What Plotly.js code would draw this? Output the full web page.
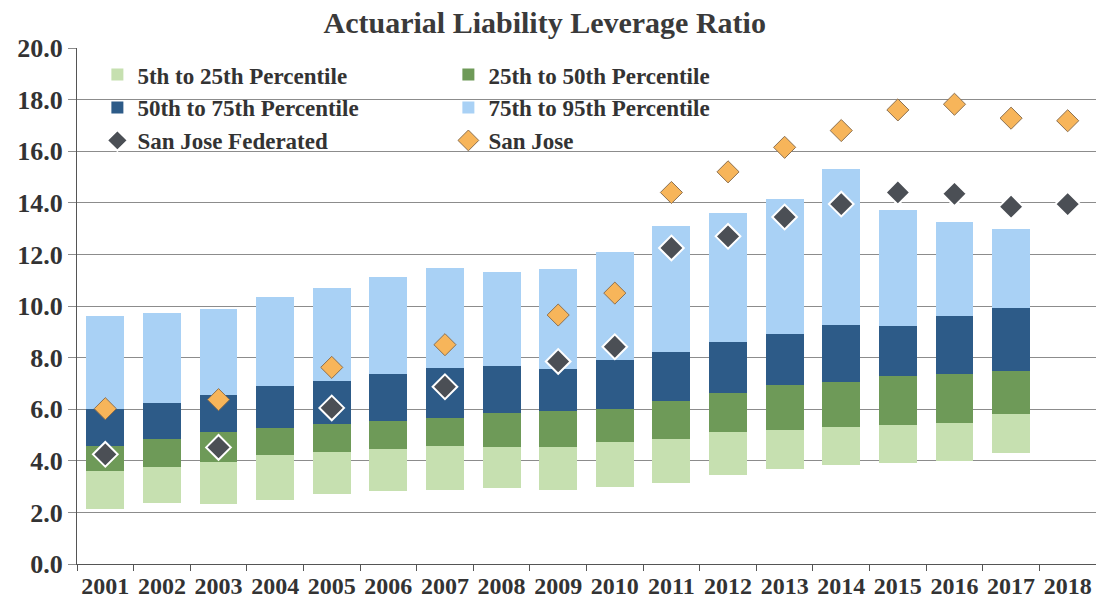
<!DOCTYPE html>
<html>
<head>
<meta charset="utf-8">
<script src="https://cdn.plot.ly/plotly-3.0.1.min.js"></script>
<style>
  body { margin: 0; background: #fff; }
  #chart { width: 1096px; height: 605px; }
</style>
</head>
<body>
<div id="chart"></div>
<script>
const years = ["2001", "2002", "2003", "2004", "2005", "2006", "2007", "2008", "2009",
  "2010", "2011", "2012", "2013", "2014", "2015", "2016", "2017", "2018"];

// percentile levels
const p5 = [2.15, 2.35, 2.32, 2.48, 2.70, 2.82, 2.87, 2.94, 2.85, 2.97, 3.15, 3.45, 3.70, 3.85, 3.90, 4.00, 4.30, null];
const p25 = [3.61, 3.76, 3.95, 4.21, 4.33, 4.46, 4.58, 4.52, 4.55, 4.72, 4.85, 5.10, 5.20, 5.32, 5.40, 5.48, 5.80, null];
const p50 = [4.58, 4.84, 5.11, 5.29, 5.44, 5.56, 5.66, 5.84, 5.92, 6.02, 6.32, 6.62, 6.92, 7.05, 7.28, 7.38, 7.50, null];
const p75 = [6.02, 6.25, 6.56, 6.90, 7.10, 7.35, 7.60, 7.68, 7.55, 7.92, 8.22, 8.62, 8.92, 9.28, 9.22, 9.62, 9.92, null];
const p95 = [9.60, 9.71, 9.88, 10.34, 10.69, 11.13, 11.49, 11.30, 11.42, 12.08, 13.10, 13.60, 14.15, 15.30, 13.72, 13.25, 13.00, null];

const sanJoseFed = [4.25, null, 4.52, null, 6.05, null, 6.87, null, 7.85, 8.42, 12.25, 12.70, 13.45, 13.95, 14.40, 14.35, 13.85, 13.95];
const sanJose = [6.02, null, 6.37, null, 7.62, null, 8.50, null, 9.65, 10.50, 14.40, 15.20, 16.15, 16.80, 17.60, 17.82, 17.28, 17.18];

const yTicks = [0, 2, 4, 6, 8, 10, 12, 14, 16, 18, 20];

const diff = (hi, lo) => hi.map((v, i) => (v == null || lo[i] == null ? null : +(v - lo[i]).toFixed(2)));
const bold = (s) => "<b>" + s + "</b>";

const serif = "Liberation Serif";

const data = [
  { x: years, y: p5, type: "bar", marker: { color: "rgba(0,0,0,0)" }, showlegend: false, hoverinfo: "skip" },
  { x: years, y: diff(p25, p5), type: "bar", name: bold("5th to 25th Percentile"), marker: { color: "#c6e0b0" } },
  { x: years, y: diff(p50, p25), type: "bar", name: bold("25th to 50th Percentile"), marker: { color: "#6e9a58" } },
  { x: years, y: diff(p75, p50), type: "bar", name: bold("50th to 75th Percentile"), marker: { color: "#2d5b88" } },
  { x: years, y: diff(p95, p75), type: "bar", name: bold("75th to 95th Percentile"), marker: { color: "#a9d1f5" } },
  {
    x: years, y: sanJoseFed, type: "scatter", mode: "markers", name: bold("San Jose Federated"),
    marker: { symbol: "diamond", size: 19, color: "#4b4f55", line: { color: "#ffffff", width: 2 } },
  },
  {
    x: years, y: sanJose, type: "scatter", mode: "markers", name: bold("San Jose"),
    marker: { symbol: "diamond", size: 17, color: "#f7b55a", line: { color: "#8c7050", width: 1 } },
  },
];

const layout = {
  width: 1096,
  height: 605,
  margin: { l: 77, r: 0, t: 48, b: 41 },
  paper_bgcolor: "#ffffff",
  plot_bgcolor: "#ffffff",
  barmode: "stack",
  bargap: 0.33,
  font: { family: serif, color: "#333333" },
  title: {
    text: bold("Actuarial Liability Leverage Ratio"),
    x: 0.497, xanchor: "center", y: 0.962, yanchor: "middle",
    font: { family: serif, size: 30, color: "#3a3a3a" },
  },
  xaxis: {
    type: "category",
    range: [-0.5, 17.5],
    tickvals: years,
    ticktext: years.map(bold),
    tickangle: 0,
    showgrid: false,
    showline: true, linecolor: "#555555", linewidth: 1,
    ticks: "outside", tickson: "boundaries", ticklen: 6, tickcolor: "#555555",
    tickfont: { family: serif, size: 24, color: "#333333" },
  },
  yaxis: {
    range: [0, 20],
    tickvals: yTicks,
    ticktext: yTicks.map((v) => bold(v.toFixed(1))),
    showgrid: true, gridcolor: "#8c8c8c", gridwidth: 1,
    showline: true, linecolor: "#555555", linewidth: 1,
    ticks: "outside", ticklen: 8, tickcolor: "#8c8c8c",
    zeroline: false,
    tickfont: { family: serif, size: 26, color: "#333333" },
  },
  legend: {
    orientation: "h",
    x: 0.02, xanchor: "left",
    y: 0.99, yanchor: "top",
    entrywidth: 306, entrywidthmode: "pixels",
    traceorder: "normal",
    bgcolor: "rgba(0,0,0,0)",
    font: { family: serif, size: 23, color: "#333333" },
  },
};

Plotly.newPlot("chart", data, layout, { displayModeBar: false, staticPlot: true });
</script>
</body>
</html>
